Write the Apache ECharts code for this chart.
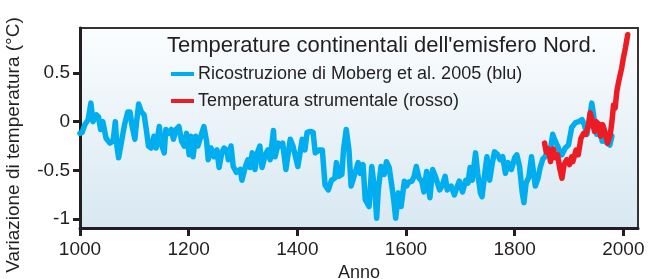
<!DOCTYPE html>
<html>
<head>
<meta charset="utf-8">
<script src="https://cdn.jsdelivr.net/npm/echarts@6/dist/echarts.min.js"></script>
<style>
  html, body { margin: 0; padding: 0; background: #fff; }
  #chart { width: 652px; height: 279px; }
</style>
</head>
<body>
<div id="chart"></div>
<script>
// Moberg et al. 2005 reconstruction
const blueYears = [1000, 1004, 1009, 1015, 1020, 1024, 1030, 1034, 1038, 1042, 1048, 1055, 1061, 1065, 1068, 1071, 1076, 1082, 1088, 1092,
  1096, 1101, 1104, 1108, 1113, 1118, 1122, 1126, 1131, 1136, 1140, 1146, 1149, 1155, 1158, 1163, 1168, 1172, 1177, 1182,
  1187, 1192, 1196, 1201, 1204, 1208, 1213, 1217, 1224, 1228, 1233, 1236, 1241, 1247, 1252, 1256, 1261, 1265, 1270, 1273,
  1278, 1282, 1288, 1295, 1298, 1304, 1309, 1313, 1317, 1322, 1327, 1331, 1335, 1341, 1346, 1350, 1356, 1359, 1365, 1368,
  1373, 1379, 1387, 1392, 1395, 1401, 1409, 1414, 1418, 1424, 1429, 1433, 1440, 1446, 1451, 1457, 1463, 1469, 1472, 1476,
  1482, 1485, 1490, 1495, 1499, 1506, 1512, 1516, 1521, 1525, 1532, 1537, 1540, 1543, 1546, 1549, 1554, 1560, 1564, 1569,
  1574, 1578, 1581, 1586, 1591, 1597, 1601, 1605, 1611, 1615, 1619, 1624, 1629, 1633, 1638, 1641, 1644, 1649, 1654, 1657,
  1662, 1667, 1672, 1676, 1683, 1689, 1692, 1698, 1704, 1710, 1714, 1718, 1722, 1728, 1732, 1737, 1740, 1745, 1749, 1754,
  1759, 1763, 1769, 1773, 1778, 1783, 1788, 1794, 1800, 1804, 1809, 1814, 1817, 1821, 1826, 1831, 1834, 1838, 1843, 1847,
  1852, 1856, 1861, 1866, 1870, 1874, 1879, 1883, 1887, 1893, 1899, 1905, 1912, 1918, 1924, 1928, 1933, 1938, 1942, 1947,
  1951, 1956, 1961, 1963, 1970, 1975, 1979]
const blueValues = [-0.12, -0.11, -0.03, 0.02, 0.19, 0.0, 0.07, 0.05, -0.08, 0.0, -0.17, -0.22, -0.2, 0.0, -0.25, -0.37, -0.22, -0.03, 0.1, 0.1,
  -0.05, -0.18, -0.01, 0.18, 0.1, 0.07, -0.08, -0.25, -0.27, -0.15, -0.27, -0.05, -0.22, -0.32, -0.08, -0.12, -0.08, -0.18, -0.08, -0.05,
  -0.2, -0.25, -0.12, -0.34, -0.15, -0.36, -0.15, -0.25, -0.12, -0.05, -0.2, -0.39, -0.27, -0.36, -0.29, -0.47, -0.32, -0.27, -0.29, -0.39,
  -0.25, -0.46, -0.52, -0.49, -0.6, -0.47, -0.39, -0.47, -0.32, -0.49, -0.31, -0.25, -0.47, -0.34, -0.29, -0.39, -0.09, -0.36, -0.22, -0.25,
  -0.22, -0.49, -0.18, -0.25, -0.27, -0.46, -0.18, -0.29, -0.11, -0.1, -0.11, -0.32, -0.29, -0.29, -0.65, -0.7, -0.6, -0.58, -0.42, -0.56,
  -0.54, -0.29, -0.08, -0.29, -0.66, -0.53, -0.42, -0.53, -0.44, -0.8, -0.87, -0.46, -0.44, -0.73, -0.99, -0.7, -0.46, -0.54, -0.41, -0.47,
  -0.66, -0.83, -0.99, -0.73, -0.87, -0.61, -0.66, -0.62, -0.61, -0.56, -0.46, -0.58, -0.61, -0.72, -0.51, -0.5, -0.78, -0.49, -0.56, -0.56,
  -0.7, -0.65, -0.56, -0.7, -0.66, -0.75, -0.7, -0.61, -0.72, -0.6, -0.63, -0.47, -0.6, -0.32, -0.53, -0.73, -0.77, -0.53, -0.36, -0.6,
  -0.42, -0.31, -0.34, -0.39, -0.36, -0.53, -0.42, -0.49, -0.37, -0.34, -0.46, -0.73, -0.83, -0.63, -0.57, -0.36, -0.49, -0.66, -0.58, -0.47,
  -0.38, -0.36, -0.3, -0.28, -0.13, -0.19, -0.25, -0.31, -0.34, -0.27, -0.24, -0.06, -0.01, 0.0, 0.02, -0.03, -0.13, 0.04, 0.19, 0.0,
  -0.13, -0.03, -0.2, -0.17, -0.22, -0.24, -0.15]

// instrumental record
const redYears = [1855, 1858, 1862, 1866, 1871, 1875, 1879, 1883, 1887, 1891, 1896, 1901, 1905, 1907, 1913, 1917, 1922, 1927, 1931, 1936,
  1939, 1942, 1947, 1950, 1955, 1958, 1962, 1967, 1971, 1976, 1979, 1982, 1985, 1988, 1991, 1994, 1997, 2000, 2004, 2008]
const redValues = [-0.22, -0.31, -0.28, -0.41, -0.28, -0.37, -0.34, -0.48, -0.58, -0.44, -0.39, -0.44, -0.36, -0.41, -0.29, -0.34, -0.17, -0.12, -0.13, -0.03,
  0.09, 0.03, -0.1, 0.0, -0.03, -0.15, -0.03, -0.12, -0.22, -0.13, 0.0, 0.17, 0.14, 0.31, 0.4, 0.38, 0.55, 0.65, 0.76, 0.89]

const xTicks = [1000, 1200, 1400, 1600, 1800, 2000]
const yTicks = [-1, -0.5, 0, 0.5]

const seriesNames = ['Ricostruzione di Moberg et al. 2005 (blu)', 'Temperatura strumentale (rosso)']

function pairs (xs, ys) {
  return xs.map((x, i) => [x, ys[i]])
}

const font = 'Liberation Sans, Arial, Helvetica, sans-serif'
const chart = echarts.init(document.getElementById('chart'), null, { renderer: 'canvas' })

chart.setOption({
  animation: false,
  textStyle: { fontFamily: font },
  title: {
    text: "Temperature continentali dell'emisfero Nord.",
    left: 167,
    top: 35,
    padding: 0,
    textStyle: { fontSize: 22, fontWeight: 'normal', color: '#231f20', fontFamily: font }
  },
  legend: {
    orient: 'vertical',
    left: 171,
    top: 65,
    padding: 0,
    itemGap: 9,
    icon: 'rect',
    itemWidth: 23,
    itemHeight: 4,
    textStyle: { fontSize: 18, color: '#231f20', fontFamily: font, padding: [0, 0, 0, -1] },
    data: seriesNames
  },
  grid: {
    left: 80,
    top: 28,
    right: 14,
    bottom: 51,
    containLabel: false,
    outerBoundsMode: 'none',
    show: true,
    borderColor: '#333',
    borderWidth: 2,
    backgroundColor: new echarts.graphic.LinearGradient(0, 0, 0, 1, [
      { offset: 0, color: '#fbfdfe' },
      { offset: 1, color: '#d8e8f2' }
    ])
  },
  xAxis: {
    type: 'value',
    min: 1000,
    max: 2027,
    name: 'Anno',
    nameLocation: 'middle',
    nameGap: 34,
    nameTextStyle: { fontSize: 18, color: '#231f20', fontFamily: font },
    axisLine: { show: true, onZero: false, lineStyle: { color: '#231f20', width: 3 } },
    axisTick: { show: true, length: 8, lineStyle: { color: '#231f20', width: 3 }, customValues: xTicks },
    axisLabel: { fontSize: 19, color: '#231f20', margin: 12, customValues: xTicks, formatter: v => String(v) },
    splitLine: { show: false }
  },
  yAxis: {
    type: 'value',
    min: -1.09,
    max: 0.96,
    name: 'Variazione di temperatura (°C)',
    nameLocation: 'middle',
    nameRotate: 90,
    nameGap: 57,
    nameTextStyle: { fontSize: 19, color: '#231f20', fontFamily: font, padding: [0, 34, 0, 0] },
    axisLine: { show: true, onZero: false, lineStyle: { color: '#231f20', width: 3 } },
    axisTick: { show: true, length: 7, lineStyle: { color: '#231f20', width: 3 }, customValues: yTicks },
    axisLabel: { fontSize: 19, color: '#231f20', margin: 10, customValues: yTicks, formatter: v => String(v) },
    splitLine: { show: false }
  },
  series: [
    {
      name: seriesNames[0],
      type: 'line',
      data: pairs(blueYears, blueValues),
      showSymbol: false,
      color: '#00aeef',
      lineStyle: { color: '#00aeef', width: 5.5, cap: 'round', join: 'round' },
      z: 2
    },
    {
      name: seriesNames[1],
      type: 'line',
      data: pairs(redYears, redValues),
      showSymbol: false,
      color: '#ed1c24',
      lineStyle: { color: '#ed1c24', width: 5.5, cap: 'round', join: 'round' },
      z: 3
    }
  ]
})
</script>
</body>
</html>
